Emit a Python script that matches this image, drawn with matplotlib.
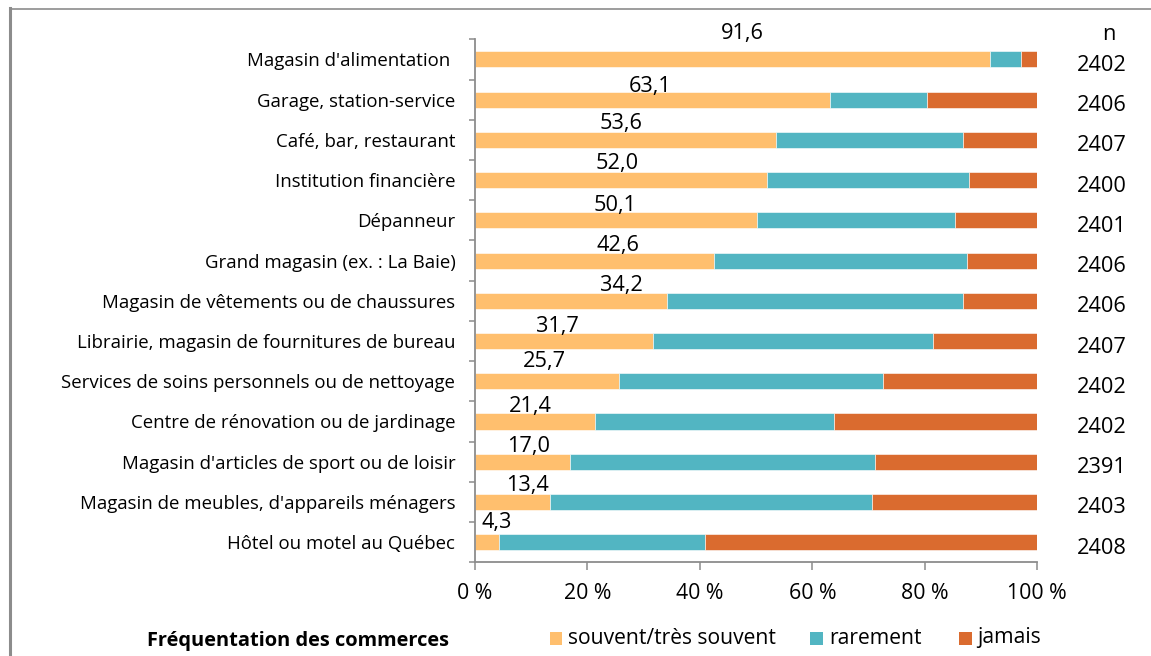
import matplotlib
matplotlib.use("Agg")
import matplotlib.pyplot as plt
from matplotlib.patches import Rectangle
from matplotlib.lines import Line2D

# ---------------- data ----------------
categories = [
    "Magasin d'alimentation ",
    "Garage, station-service",
    "Café, bar, restaurant",
    "Institution financière",
    "Dépanneur",
    "Grand magasin (ex. : La Baie)",
    "Magasin de vêtements ou de chaussures",
    "Librairie, magasin de fournitures de bureau",
    "Services de soins personnels ou de nettoyage",
    "Centre de rénovation ou de jardinage",
    "Magasin d'articles de sport ou de loisir",
    "Magasin de meubles, d'appareils ménagers",
    "Hôtel ou motel au Québec",
]
souvent = [91.6, 63.1, 53.6, 52.0, 50.1, 42.6, 34.2, 31.7, 25.7, 21.4, 17.0, 13.4, 4.3]
rarement = [5.5, 17.3, 33.2, 35.8, 35.3, 44.9, 52.6, 49.8, 46.9, 42.5, 54.2, 57.3, 36.6]
jamais = [2.9, 19.6, 13.2, 12.2, 14.6, 12.5, 13.2, 18.5, 27.4, 36.1, 28.8, 29.3, 59.1]
n_values = [2402, 2406, 2407, 2400, 2401, 2406, 2406, 2407, 2402, 2402, 2391, 2403, 2408]
series_names = ["souvent/très souvent", "rarement", "jamais"]
x_ticks = [0, 20, 40, 60, 80, 100]
x_tick_labels = ["0 %", "20 %", "40 %", "60 %", "80 %", "100 %"]
title = "Fréquentation des commerces"

# ---------------- layout / style ----------------
colors = ["#FFBF6E", "#52B5C2", "#DA6B2F"]
label_x = [47.6, 31.2, 26.0, 25.4, 24.9, 25.5, 26.1, 14.7, 12.4, 9.8, 9.6, 9.3, 3.9]
label_dy_px = [-26, -13.6, -15.9, -17.1, -15.3, -14.9, -14.8, -14.3, -19.6, -14.8, -15, -16, -19.5]

W, H, DPI = 1151, 656, 100
FONT = ["Open Sans", "DejaVu Sans"]
plt.rcParams["font.family"] = FONT
PX = 72.0 / DPI  # points per pixel

fig = plt.figure(figsize=(W / DPI, H / DPI), dpi=DPI)
fig.patch.set_facecolor("white")

ax_l, ax_r, ax_t, ax_b = 474.7, 1037.3, 39.3, 562.3
ax = fig.add_axes([ax_l / W, (H - ax_b) / H, (ax_r - ax_l) / W, (ax_b - ax_t) / H])

ypos = list(range(len(categories)))
left = [0.0] * len(categories)
for vals, col, name in zip([souvent, rarement, jamais], colors, series_names):
    ax.barh(ypos, vals, left=left, height=0.4, color=col, edgecolor="white",
            linewidth=0.4, label=name)
    left = [l + v for l, v in zip(left, vals)]

ax.set_xlim(0, 100)
ax.set_ylim(len(categories) - 0.5, -0.5)

gray = "#8C8C8C"
for s in ["top", "right"]:
    ax.spines[s].set_visible(False)
for s in ["left", "bottom"]:
    ax.spines[s].set_color(gray)
    ax.spines[s].set_linewidth(1.3)

ax.set_xticks(x_ticks)
ax.set_xticklabels(x_tick_labels, fontsize=15.3)
ax.tick_params(axis="x", direction="out", length=8 * PX, width=1.1, color=gray, pad=9.5)

ax.set_yticks(ypos)
ax.set_yticklabels(categories, fontsize=13.45)
ax.tick_params(axis="y", which="major", length=0, pad=14)
ax.set_yticks([i + 0.5 for i in range(-1, len(categories))], minor=True)
ax.tick_params(axis="y", which="minor", direction="out", length=6 * PX, width=1.1, color=gray)

# value labels
for i, v in enumerate(souvent):
    ax.annotate(f"{v:.1f}".replace(".", ","), xy=(label_x[i], i), xycoords="data",
                xytext=(0, -label_dy_px[i] * PX), textcoords="offset points",
                ha="center", va="center", fontsize=15.7, color="black")

# n column
ax.annotate("n", xy=(1109, 0), xycoords=("figure pixels", "data"),
            xytext=(0, 25.4 * PX), textcoords="offset points",
            ha="center", va="center", fontsize=15.7)
for i, nv in enumerate(n_values):
    ax.annotate(str(nv), xy=(1101.7, i), xycoords=("figure pixels", "data"),
                xytext=(0, -6 * PX), textcoords="offset points",
                ha="center", va="center", fontsize=15.7)

# title
fig.text(147 / W, 1 - 641 / H, title, fontsize=14.4, fontweight="bold",
         ha="left", va="center")

# legend (manual)
leg_sq_x = [549.7, 810.0, 959.0]
leg_txt_x = [568.0, 829.0, 977.0]
leg_y = 638
for sx, tx, col, name in zip(leg_sq_x, leg_txt_x, colors, series_names):
    fig.patches.append(Rectangle((sx / W, 1 - (leg_y + 6.5) / H), 12.5 / W, 13 / H,
                                 transform=fig.transFigure, facecolor=col,
                                 edgecolor="none"))
    fig.text(tx / W, 1 - leg_y / H, name, fontsize=15.2, ha="left", va="center")

# frame lines (top and left)
fig.lines.append(Line2D([10 / W, 10 / W], [1 - 8 / H, 0], transform=fig.transFigure,
                        color=gray, linewidth=2.2))
fig.lines.append(Line2D([10 / W, 1], [1 - 9 / H, 1 - 9 / H], transform=fig.transFigure,
                        color=gray, linewidth=1.2))

fig.savefig("out.png", dpi=DPI, facecolor="white")
